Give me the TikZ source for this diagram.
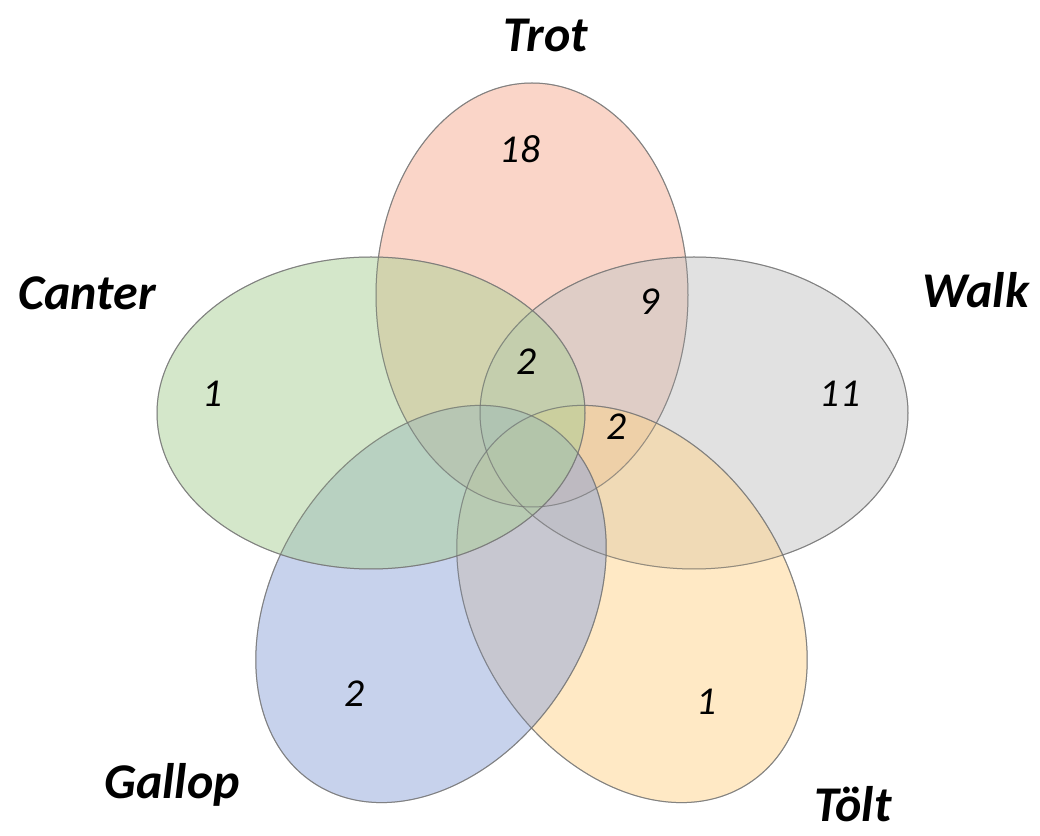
\documentclass[tikz,border=0pt]{standalone}
\usepackage{fontspec}
\setmainfont{Carlito}
\usepackage{tikz}
\usetikzlibrary{positioning}

\definecolor{trotpink}{RGB}{245,172,145}
\definecolor{cantergreen}{RGB}{170,208,150}
\definecolor{walkgray}{RGB}{196,196,196}
\definecolor{gallopblue}{RGB}{144,166,218}
\definecolor{toltyellow}{RGB}{255,212,140}

\tikzset{
  gaitset/.style={draw=black!55, draw opacity=0.65, line width=0.5pt, fill opacity=0.5},
  gaitname/.style={anchor=base, inner sep=0pt, font=\fontsize{25}{30}\selectfont\bfseries\itshape},
  tally/.style={anchor=base, inner sep=0pt, font=\fontsize{19.75}{24}\selectfont\itshape}
}

\begin{document}
\begin{tikzpicture}[x=0.5pt, y=0.5pt]

    \useasboundingbox (0,0) rectangle (1040,836);

    % the five gaits
    \fill[gaitset, fill=trotpink] (532,541) ellipse [x radius=156, y radius=212];
    \fill[gaitset, fill=walkgray] (694,423) ellipse [x radius=214, y radius=156];
    \fill[gaitset, fill=toltyellow] (632,232) ellipse [x radius=214, y radius=156, rotate=-57];
    \fill[gaitset, fill=gallopblue] (431,232) ellipse [x radius=214, y radius=156, rotate=57];
    \fill[gaitset, fill=cantergreen] (371,423) ellipse [x radius=214, y radius=156];
    \draw[gaitset] (532,541) ellipse [x radius=156, y radius=212];
    \draw[gaitset] (694,423) ellipse [x radius=214, y radius=156];
    \draw[gaitset] (632,232) ellipse [x radius=214, y radius=156, rotate=-57];
    \draw[gaitset] (431,232) ellipse [x radius=214, y radius=156, rotate=57];
    \draw[gaitset] (371,423) ellipse [x radius=214, y radius=156];

    % names
    \node[gaitname] (trot) at (546,784) {Trot};
    \node[gaitname] (canter) at (87,526) {Canter};
    \node[gaitname] (walk) at (976,528) {Walk};
    \node[gaitname] (gallop) at (172,37) {Gallop};
    \node[gaitname] (tolt) at (853,14) {Tölt};

    % counts
    \node[tally] (ntrot) at (520,673) {18};
    \node[tally] (ntrotwalk) at (650,521) {9};
    \node[tally] (ncentre) at (527,461) {2};
    \node[tally] (ncanter) at (213,429) {1};
    \node[tally] (nwalk) at (840,429) {11};
    \node[tally] (ntrotwalktolt) at (617,396) {2};
    \node[tally] (ngallop) at (355,129) {2};
    \node[tally] (ntolt) at (707,121) {1};

\end{tikzpicture}
\end{document}
